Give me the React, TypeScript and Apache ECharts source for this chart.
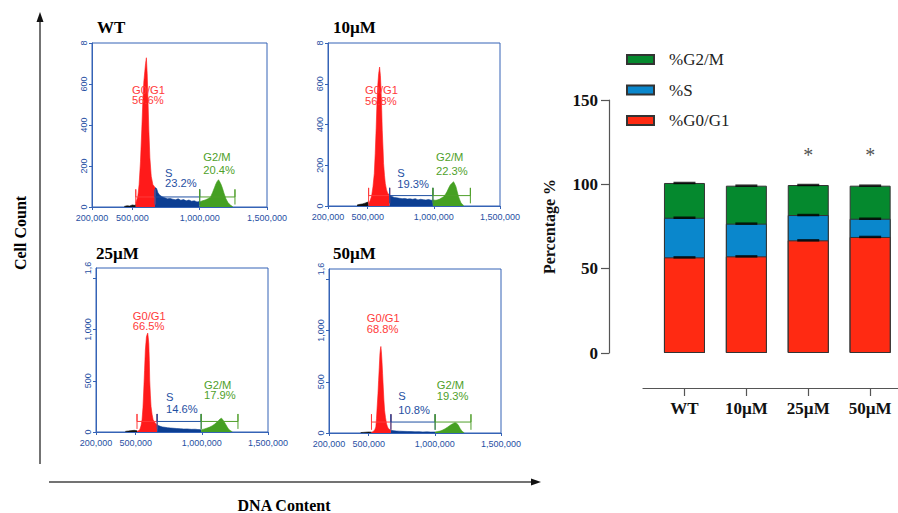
import React, { useEffect, useRef } from "react";
import * as echarts from "echarts";

// ---------------- DATA ----------------
const panelNames = ["WT", "10µM", "25µM", "50µM"];

// Histogram points: x = DNA content (thousands), y = cell count
const wtDebrisX = [440, 460, 480, 500, 515, 525];
const wtDebrisY = [3, 6, 5, 10, 8, 12];
const wtG1X = [525, 540, 550, 560, 570, 578, 585, 592, 598, 604, 610, 616, 622, 630, 640, 652, 668];
const wtG1Y = [20, 50, 110, 220, 380, 520, 610, 660, 700, 728, 650, 520, 380, 240, 150, 110, 95];
const wtSX = [668, 680, 690, 700, 720, 740, 760, 780, 800, 820, 840, 860, 880, 900, 920, 940, 960, 980, 1000];
const wtSY = [95, 90, 70, 60, 50, 45, 40, 42, 38, 35, 40, 33, 36, 30, 34, 28, 30, 25, 27];
const wtG2X = [1000, 1020, 1040, 1060, 1080, 1095, 1110, 1120, 1130, 1140, 1150, 1160, 1170, 1180, 1195, 1210, 1230, 1245];
const wtG2Y = [25, 30, 34, 40, 48, 70, 95, 112, 125, 133, 122, 108, 90, 68, 40, 22, 8, 2];

const m10DebrisX = [420, 440, 460, 480, 495, 507];
const m10DebrisY = [5, 8, 10, 14, 18, 20];
const m10G1X = [507, 520, 530, 540, 550, 557, 564, 570, 577, 583, 590, 596, 600, 606, 610, 616, 620, 627, 633, 642, 651, 666];
const m10G1Y = [10, 29, 50, 95, 160, 258, 380, 503, 600, 650, 682, 640, 585, 470, 372, 280, 209, 150, 111, 80, 62, 54];
const m10SX = [666, 680, 700, 720, 740, 760, 780, 800, 820, 840, 860, 880, 900, 920, 940, 960, 980, 993];
const m10SY = [54, 48, 42, 40, 38, 36, 37, 34, 35, 33, 36, 30, 33, 31, 29, 32, 28, 30];
const m10G2X = [993, 1010, 1024, 1045, 1060, 1074, 1088, 1099, 1112, 1124, 1137, 1149, 1158, 1167, 1177, 1187, 1197, 1205, 1215, 1225];
const m10G2Y = [30, 28, 29, 34, 40, 46, 58, 70, 88, 103, 112, 119, 108, 95, 70, 46, 28, 16, 8, 3];

const m25DebrisX = [422, 445, 470, 490, 510];
const m25DebrisY = [6, 10, 14, 16, 12];
const m25G1X = [510, 520, 531, 540, 548, 555, 561, 567, 573, 581, 586, 591, 595, 599, 603, 606, 611, 616, 624, 632, 647, 662];
const m25G1Y = [8, 12, 23, 60, 119, 240, 410, 600, 797, 926, 950, 965, 920, 861, 700, 506, 360, 248, 170, 119, 87, 71];
const m25SX = [662, 675, 687, 700, 720, 740, 763, 790, 810, 840, 864, 890, 920, 950, 970, 995];
const m25SY = [71, 62, 55, 50, 46, 42, 39, 36, 34, 31, 29, 30, 26, 27, 24, 23];
const m25G2X = [995, 1015, 1041, 1060, 1079, 1095, 1112, 1125, 1137, 1149, 1158, 1167, 1180, 1192, 1202, 1212, 1222, 1230];
const m25G2Y = [23, 28, 39, 48, 61, 75, 94, 110, 126, 135, 120, 103, 75, 48, 30, 16, 8, 3];

const m50DebrisX = [440, 460, 480, 500, 521];
const m50DebrisY = [4, 6, 8, 10, 8];
const m50G1X = [521, 530, 539, 547, 554, 559, 564, 570, 575, 580, 585, 589, 592, 596, 600, 605, 610, 615, 620, 627, 635, 642, 650, 668];
const m50G1Y = [8, 12, 19, 35, 58, 140, 253, 380, 513, 640, 773, 820, 844, 790, 708, 580, 448, 320, 221, 150, 91, 60, 42, 26];
const m50SX = [668, 690, 710, 730, 760, 790, 820, 850, 880, 910, 940, 970, 1002];
const m50SY = [26, 22, 19, 18, 16, 15, 14, 12, 13, 10, 11, 9, 10];
const m50G2X = [1002, 1020, 1040, 1060, 1078, 1095, 1111, 1124, 1136, 1145, 1154, 1164, 1174, 1183, 1192, 1202, 1212, 1222];
const m50G2Y = [10, 14, 19, 30, 42, 56, 71, 82, 91, 97, 101, 95, 84, 64, 42, 24, 10, 3];

// Gate boundaries (thousands): G0/G1 start, G1|S, S|G2, G2 end
const gateEdges = [
  [525, 668, 1000, 1262],
  [507, 666, 993, 1276],
  [510, 662, 995, 1273],
  [521, 668, 1002, 1273],
];
const gateLevel = [49, 51, 103, 107];
const gateHalf = [37, 38, 73, 76];

// Percentages printed on histograms
const g1Pct = ["56.6%", "56.8%", "66.5%", "68.8%"];
const sPct = ["23.2%", "19.3%", "14.6%", "10.8%"];
const g2Pct = ["20.4%", "22.3%", "17.9%", "19.3%"];

// Axis ticks for histograms
const xTickVals = [200000, 500000, 1000000, 1500000];
const yMaxes = [800, 800, 1600, 1600];
const yTickSmall = [0, 200, 400, 600, 800];
const yTickLarge = [0, 500, 1000, 1500];

// Stacked bar chart
const barCats = ["WT", "10µM", "25µM", "50µM"];
const pctG1 = [56.7, 57.3, 66.8, 68.8];
const pctS = [23.5, 19.4, 15.0, 10.8];
const pctG2 = [20.6, 22.5, 17.8, 19.6];
const sig = ["", "", "*", "*"];

// ---------------- STYLE / LAYOUT ----------------
const SANS = "'Liberation Sans', Arial, sans-serif";
const SERIF = "'Liberation Serif', 'Times New Roman', serif";
const AX_BLUE = "#3563b6";
const LBL_BLUE = "#1f4fa3";
const H_RED = "#ff1a1a";
const H_NAVY = "#0c3e92";
const H_GREEN = "#45a022";
const T_RED = "#ff3a3a";
const T_BLUE = "#1f50a2";
const T_GREEN = "#4f9f2a";

const histLayout = [
  { left: 92, top: 43, width: 175, height: 164 },
  { left: 328, top: 43, width: 172, height: 163 },
  { left: 96, top: 268, width: 172, height: 164 },
  { left: 329, top: 269, width: 172, height: 164 },
];
const titlePos = [
  [97, 27],
  [333, 27],
  [96, 253],
  [333, 253],
];
// x, first-line centre y, second-line centre y
const annotPos = [
  { g1: [132, 90.3, 100.7], s: [165, 173.4, 183.6], g2: [203.3, 157.3, 170.3] },
  { g1: [365, 90.3, 100.8], s: [397.3, 173.3, 183.8], g2: [436, 157.2, 170.8] },
  { g1: [132.7, 316.5, 326.7], s: [166, 397.2, 409.2], g2: [204, 385, 395.5] },
  { g1: [366.7, 318.5, 328.8], s: [398.3, 395.8, 409.8], g2: [436.7, 385.5, 396.2] },
];

const histSets = [
  { d: [wtDebrisX, wtDebrisY], g1: [wtG1X, wtG1Y], s: [wtSX, wtSY], g2: [wtG2X, wtG2Y] },
  { d: [m10DebrisX, m10DebrisY], g1: [m10G1X, m10G1Y], s: [m10SX, m10SY], g2: [m10G2X, m10G2Y] },
  { d: [m25DebrisX, m25DebrisY], g1: [m25G1X, m25G1Y], s: [m25SX, m25SY], g2: [m25G2X, m25G2Y] },
  { d: [m50DebrisX, m50DebrisY], g1: [m50G1X, m50G1Y], s: [m50SX, m50SY], g2: [m50G2X, m50G2Y] },
];

function zip(xs: number[], ys: number[]) {
  return xs.map((x, i) => [x * 1000, ys[i]]);
}
function fmt(v: number) {
  return Math.round(v).toLocaleString("en-US");
}

function buildOption() {
  const grid: any[] = [];
  const xAxis: any[] = [];
  const yAxis: any[] = [];
  const series: any[] = [];
  const graphic: any[] = [];

  histLayout.forEach((h, i) => {
    grid.push({ ...h, show: true, borderColor: AX_BLUE, borderWidth: 1, backgroundColor: "transparent" });
    xAxis.push({
      gridIndex: i,
      type: "value",
      min: 200000,
      max: 1500000,
      axisLine: { show: true, onZero: false, lineStyle: { color: AX_BLUE, width: 1 } },
      axisTick: { show: true, length: 3, lineStyle: { color: AX_BLUE }, customValues: xTickVals },
      axisLabel: {
        customValues: xTickVals,
        formatter: (v: number) => fmt(v),
        fontSize: 9,
        color: LBL_BLUE,
        fontFamily: SANS,
        margin: 6,
      },
      splitLine: { show: false },
    });
    const yTicks = yMaxes[i] === 800 ? yTickSmall : yTickLarge;
    const yLabels = yMaxes[i] === 800 ? yTickSmall : [0, 500, 1000, 1600];
    yAxis.push({
      gridIndex: i,
      type: "value",
      min: 0,
      max: yMaxes[i],
      axisLine: { show: true, onZero: false, lineStyle: { color: AX_BLUE, width: 1 } },
      axisTick: { show: true, length: 3, lineStyle: { color: AX_BLUE }, customValues: yTicks },
      axisLabel: {
        customValues: yLabels,
        rotate: 90,
        // the top label is cut by the panel edge in the source figure
        formatter: (v: number) => (v === yMaxes[i] ? fmt(v).slice(0, fmt(v).length - 2) : fmt(v)),
        fontSize: 9,
        color: LBL_BLUE,
        fontFamily: SANS,
        margin: 4,
      },
      splitLine: { show: false },
    });

    const set = histSets[i];
    const area = (name: string, pair: number[][], color: string) => ({
      name,
      type: "line",
      xAxisIndex: i,
      yAxisIndex: i,
      data: zip(pair[0], pair[1]),
      symbol: "none",
      silent: true,
      lineStyle: { color, width: 0.6 },
      areaStyle: { color, opacity: 1 },
      z: 3,
    });
    series.push(area("debris" + i, set.d, "#111"));
    series.push(area("g1h" + i, set.g1, H_RED));
    series.push(area("sh" + i, set.s, H_NAVY));
    series.push(area("g2h" + i, set.g2, H_GREEN));

    const e = gateEdges[i];
    const lv = gateLevel[i];
    const hh = gateHalf[i];
    const gate = (a: number, b: number, color: string) => ({
      type: "line",
      xAxisIndex: i,
      yAxisIndex: i,
      data: [
        [a * 1000, lv - hh],
        [a * 1000, lv + hh],
        [a * 1000, lv],
        [b * 1000, lv],
        [b * 1000, lv + hh],
        [b * 1000, lv - hh],
      ],
      symbol: "none",
      silent: true,
      lineStyle: { color, width: 1 },
      z: 5,
    });
    series.push(gate(e[0], e[1], T_RED));
    series.push(gate(e[1], e[2], T_BLUE));
    series.push(gate(e[2], e[3], T_GREEN));

    graphic.push({
      type: "text",
      x: titlePos[i][0],
      y: titlePos[i][1],
      style: {
        text: panelNames[i],
        fill: "#000",
        fontSize: 17,
        fontWeight: "bold",
        fontFamily: SERIF,
        align: "left",
        verticalAlign: "middle",
      },
    });
    const ap = annotPos[i];
    const txt = (t: string, x: number, y: number, c: string) => ({
      type: "text",
      x,
      y,
      z: 10,
      scaleX: 1.12,
      style: {
        text: t,
        fill: c,
        fontSize: 10,
        fontFamily: SANS,
        align: "left",
        verticalAlign: "middle",
      },
    });
    graphic.push(txt("G0/G1", ap.g1[0], ap.g1[1], T_RED));
    graphic.push(txt(g1Pct[i], ap.g1[0], ap.g1[2], T_RED));
    graphic.push(txt("S", ap.s[0], ap.s[1], T_BLUE));
    graphic.push(txt(sPct[i], ap.s[0], ap.s[2], T_BLUE));
    graphic.push(txt("G2/M", ap.g2[0], ap.g2[1], T_GREEN));
    graphic.push(txt(g2Pct[i], ap.g2[0], ap.g2[2], T_GREEN));
  });

  // ----- bar chart (cumulative overlapping bars) -----
  const bi = 4;
  grid.push({ left: 643, top: 100, width: 255, height: 253 });
  xAxis.push({
    gridIndex: bi,
    type: "value",
    min: -0.67,
    max: 3.45,
    offset: 35,
    axisLine: { show: true, onZero: false, lineStyle: { color: "#555", width: 1.2 } },
    axisTick: { show: true, length: 8, lineStyle: { color: "#555", width: 1.2 }, customValues: [0, 1, 2, 3] },
    axisLabel: {
      customValues: [0, 1, 2, 3],
      formatter: (v: number) => barCats[Math.round(v)],
      fontFamily: SERIF,
      fontWeight: "bold",
      fontSize: 17,
      color: "#111",
      margin: 12,
    },
    splitLine: { show: false },
  });
  yAxis.push({
    gridIndex: bi,
    type: "value",
    min: 0,
    max: 150,
    interval: 50,
    offset: 34,
    axisLine: { show: true, onZero: false, lineStyle: { color: "#555", width: 1.2 } },
    axisTick: { show: true, length: 8, lineStyle: { color: "#555", width: 1.2 } },
    axisLabel: { fontFamily: SERIF, fontWeight: "bold", fontSize: 17, color: "#111", margin: 11 },
    splitLine: { show: false },
    name: "Percentage %",
    nameLocation: "middle",
    nameGap: 52,
    nameTextStyle: { fontFamily: SERIF, fontWeight: "bold", fontSize: 16, color: "#111" },
  });
  const cumS = pctG1.map((v, i) => v + pctS[i]);
  const cumT = cumS.map((v, i) => v + pctG2[i]);
  const barS = (name: string, vals: number[], color: string) => ({
    name,
    type: "bar",
    xAxisIndex: bi,
    yAxisIndex: bi,
    barWidth: 41,
    barGap: "-100%",
    data: vals.map((v, i) => [i, v]),
    itemStyle: { color, borderColor: "#333", borderWidth: 1 },
  });
  series.push(barS("%G2/M", cumT, "#05892e"));
  series.push(barS("%S", cumS, "#0a87cc"));
  series.push(barS("%G0/G1", pctG1, "#ff2a12"));
  const caps: number[][] = [];
  barCats.forEach((_, i) => {
    caps.push([i, pctG1[i]]);
    caps.push([i, cumS[i]]);
    caps.push([i, cumT[i]]);
  });
  series.push({
    type: "scatter",
    xAxisIndex: bi,
    yAxisIndex: bi,
    data: caps,
    symbol: "rect",
    symbolSize: [22, 2.5],
    itemStyle: { color: "#000" },
    silent: true,
    z: 6,
  });
  series.push({
    type: "scatter",
    xAxisIndex: bi,
    yAxisIndex: bi,
    data: sig
      .map((s, i) => (s ? { value: [i, cumT[i]], label: { formatter: s } } : null))
      .filter((d) => d),
    symbolSize: 1,
    itemStyle: { color: "rgba(0,0,0,0)" },
    label: { show: true, position: "top", distance: 20, fontSize: 20, fontFamily: SERIF, color: "#222" },
    silent: true,
    z: 6,
  });

  graphic.push(
    { type: "line", shape: { x1: 40, y1: 464, x2: 40, y2: 20 }, style: { stroke: "#444", lineWidth: 1.5 } },
    { type: "polygon", shape: { points: [[40, 12], [36.5, 22], [43.5, 22]] }, style: { fill: "#111" } },
    { type: "line", shape: { x1: 49, y1: 482, x2: 532, y2: 482 }, style: { stroke: "#444", lineWidth: 1.5 } },
    { type: "polygon", shape: { points: [[541, 482], [531, 478.5], [531, 485.5]] }, style: { fill: "#111" } },
    {
      type: "text",
      x: 20,
      y: 233,
      rotation: Math.PI / 2,
      style: { text: "Cell Count", fill: "#000", fontSize: 16, fontWeight: "bold", fontFamily: SERIF, align: "center", verticalAlign: "middle" },
    },
    {
      type: "text",
      x: 284,
      y: 505,
      style: { text: "DNA Content", fill: "#000", fontSize: 16, fontWeight: "bold", fontFamily: SERIF, align: "center", verticalAlign: "middle" },
    }
  );

  return {
    animation: false,
    backgroundColor: "#fff",
    grid,
    xAxis,
    yAxis,
    series,
    graphic,
    legend: {
      data: ["%G2/M", "%S", "%G0/G1"],
      orient: "vertical",
      left: 626,
      top: 51,
      padding: 0,
      itemWidth: 27,
      itemHeight: 9,
      itemGap: 13.5,
      icon: "rect",
      selectedMode: false,
      textStyle: { fontFamily: SERIF, fontSize: 17, color: "#222", padding: [0, 0, 0, 10] },
    },
  };
}

export default function App() {
  const ref = useRef<HTMLDivElement>(null);
  useEffect(() => {
    if (!ref.current) return;
    const chart = echarts.init(ref.current, null, { renderer: "svg" });
    chart.setOption(buildOption() as any);
    return () => chart.dispose();
  }, []);
  return (
    <div
      ref={ref}
      style={{ position: "absolute", left: 0, top: 0, width: 898, height: 513, background: "#fff" }}
    />
  );
}
